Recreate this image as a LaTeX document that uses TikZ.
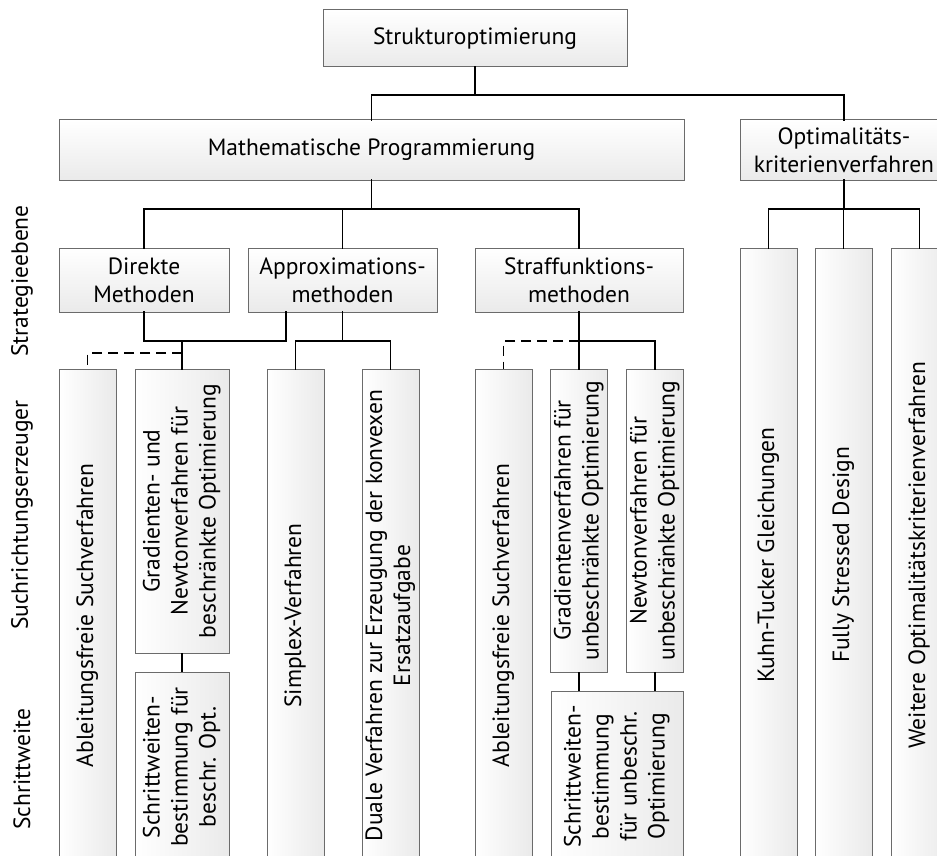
\documentclass[tikz,border=0pt]{standalone}
\usepackage{fontspec}
\setmainfont{PT Sans}
\usetikzlibrary{calc}
\definecolor{bord}{HTML}{6B6B6B}
\definecolor{shd}{HTML}{EAEAEA}
\newcommand{\vtext}[1]{\rotatebox{90}{\begin{tabular}{@{}c@{}}#1\end{tabular}}}
\tikzset{
  basebox/.style={draw=bord, line width=1pt, inner sep=0pt, outer sep=0pt, align=center,
    font=\fontsize{23.5}{28}\selectfont},
  hbox/.style={basebox, top color=white, bottom color=shd},
  vbox/.style={basebox, left color=white, right color=shd},
  lab/.style={font=\fontsize{23.5}{28}\selectfont, inner sep=0pt, rotate=90},
  conn/.style={line width=1.6pt, line cap=rect},
  dconn/.style={line width=1.6pt, dash pattern=on 10pt off 6pt}
}
\begin{document}
\begin{tikzpicture}[x=1pt,y=-1pt]
\useasboundingbox (0,0) rectangle (937,856);
\clip (0,0) rectangle (937,856);

% level 0/1
\node[hbox, minimum width=304pt, minimum height=57pt] (top) at (475,38.5) {Strukturoptimierung};
\node[hbox, minimum width=625pt, minimum height=60pt] (math) at (371.5,150) {Mathematische Programmierung};
\node[hbox, minimum width=208pt, minimum height=60pt] (opt) at (844,150) {Optimalitäts-\\kriterienverfahren};

% level 2
\node[hbox, minimum width=170pt, minimum height=64pt] (direkte) at (144,280) {Direkte\\Methoden};
\node[hbox, minimum width=189pt, minimum height=64pt] (approx) at (342.5,280) {Approximations-\\methoden};
\node[hbox, minimum width=208pt, minimum height=64pt] (straff) at (579,280) {Straffunktions-\\methoden};

\node[vbox, minimum width=57pt, minimum height=614pt] (kt) at (768.5,555) {\vtext{Kuhn-Tucker Gleichungen}};
\node[vbox, minimum width=57pt, minimum height=614pt] (fsd) at (843.5,555) {\vtext{Fully Stressed Design}};
\node[vbox, minimum width=57pt, minimum height=614pt] (wo) at (919.5,555) {\vtext{Weitere Optimalitätskriterienverfahren}};

% level 3
\node[vbox, minimum width=57pt, minimum height=493pt] (abl1) at (87.5,615.5) {\vtext{Ableitungsfreie Suchverfahren}};
\node[vbox, minimum width=94pt, minimum height=284pt] (grad1) at (182,511) {\vtext{Gradienten- und\\Newtonverfahren für\\beschränkte Optimierung}};
\node[vbox, minimum width=94pt, minimum height=190pt] (schr1) at (182,767) {\vtext{Schrittweiten-\\bestimmung für\\beschr. Opt.}};
\node[vbox, minimum width=57pt, minimum height=493pt] (simplex) at (295.5,615.5) {\vtext{Simplex-Verfahren}};
\node[vbox, minimum width=57pt, minimum height=493pt] (duale) at (390.5,615.5) {\vtext{Duale Verfahren zur Erzeugung der konvexen\\Ersatzaufgabe}};

\node[vbox, minimum width=57pt, minimum height=493pt] (abl2) at (503.5,615.5) {\vtext{Ableitungsfreie Suchverfahren}};
\node[vbox, minimum width=57pt, minimum height=303pt] (grad2) at (579,520.5) {\vtext{Gradientenverfahren für\\unbeschränkte Optimierung}};
\node[vbox, minimum width=57pt, minimum height=303pt] (newton2) at (655,520.5) {\vtext{Newtonverfahren für\\unbeschränkte Optimierung}};
\node[vbox, minimum width=132pt, minimum height=171pt] (schr2) at (617,776.5) {\vtext{Schrittweiten-\\bestimmung\\für unbeschr.\\Optimierung}};

% side labels
\node[lab] (l1) at (22,281) {Strategieebene};
\node[lab] (l2) at (22,515) {Suchrichtungserzeuger};
\node[lab] (l3) at (22,769) {Schrittweite};

% connectors
\coordinate (j1) at (475,95);
\draw[conn] (top.south) -- (j1);
\draw[conn] (math.north) |- (j1) -| (opt.north);

\coordinate (j2) at (371.5,209);
\draw[conn] (math.south) -- (j2);
\draw[conn] (direkte.north) |- (j2) -| (straff.north);
\draw[conn] (approx.north) -- (approx.north |- j2);

\coordinate (j3) at (844,209);
\draw[conn] (opt.south) -- (j3);
\draw[conn] (kt.north) |- (j3) -| (wo.north);
\draw[conn] (fsd.north) -- (fsd.north |- j3);

\coordinate (h1) at (286,341);
\coordinate (jD) at (grad1.north |- h1);
\draw[conn] (direkte.south) |- (h1) -- (approx.south -| h1);
\draw[conn] (jD) -- (grad1.north);
\coordinate (dD) at (182,353);
\draw[dconn] (dD) -| (abl1.north);

\coordinate (jA) at (approx.south |- h1);
\draw[conn] (approx.south) -- (jA);
\draw[conn] (simplex.north) |- (jA) -| (duale.north);

\coordinate (jS) at (straff.south |- h1);
\draw[conn] (straff.south) -- (grad2.north);
\draw[conn] (jS) -| (newton2.north);
\draw[dconn] (jS) -| (abl2.north);

\draw[line width=1.2pt] (grad1.south) -- (schr1.north);
\draw[line width=1.2pt] (grad2.south) -- (schr2.north -| grad2.south);
\draw[line width=1.2pt] (newton2.south) -- (schr2.north -| newton2.south);
\end{tikzpicture}
\end{document}
